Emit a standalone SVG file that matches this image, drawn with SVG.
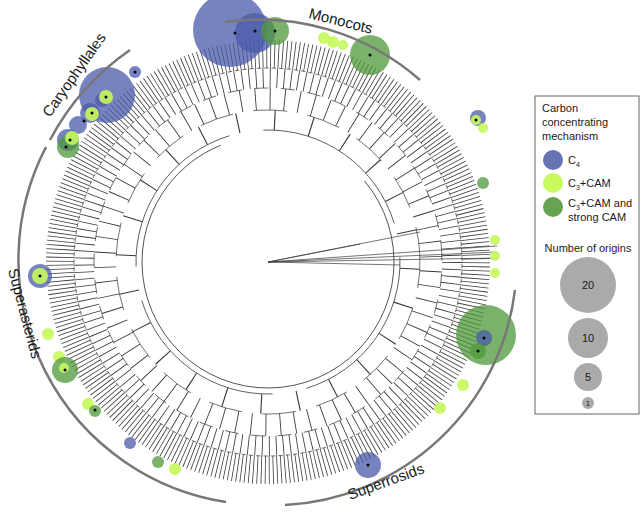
<svg xmlns="http://www.w3.org/2000/svg" width="643" height="525" viewBox="0 0 643 525">
<style>
.t{fill:none;stroke:#3a3a3a;stroke-linejoin:bevel}
.lab{font-family:"Liberation Sans",Arial,sans-serif;fill:#1a1a1a}
.b{fill:#4a5aa8;fill-opacity:.75}
.l{fill:#c4f85a;fill-opacity:.9}
.g{fill:#4e983a;fill-opacity:.75}
.d{fill:#000}
.arc{fill:none;stroke:#777;stroke-width:2.5}
</style>
<rect width="643" height="525" fill="#fff"/>
<g id="tree">
<circle class="t" cx="268" cy="262" r="208" stroke-width="28" pathLength="330" stroke-dasharray="0.2 0.8" stroke-dashoffset="-0.6" transform="rotate(-6 268 262)"/>
<circle class="t" cx="268" cy="262" r="194" stroke-width="0.7" pathLength="330" stroke-dasharray="1.2 0.8" transform="rotate(-6 268 262)"/>
<circle class="t" cx="268" cy="262" r="184" stroke-width="20" pathLength="165" stroke-dasharray="0.12 0.88" stroke-dashoffset="-0.3" transform="rotate(-5 268 262)"/>
<circle class="t" cx="268" cy="262" r="174" stroke-width="0.7" pathLength="165" stroke-dasharray="2.1 1.9" transform="rotate(-5 268 262)"/>
<circle class="t" cx="268" cy="262" r="163" stroke-width="22" pathLength="70" stroke-dasharray="0.06 0.94" stroke-dashoffset="-0.2" transform="rotate(-3 268 262)"/>
<circle class="t" cx="268" cy="262" r="152" stroke-width="0.7" pathLength="70" stroke-dasharray="2.5 1.5" transform="rotate(-3 268 262)"/>
<circle class="t" cx="268" cy="262" r="142" stroke-width="20" pathLength="24" stroke-dasharray="0.03 0.97" stroke-dashoffset="-0.3" transform="rotate(-2 268 262)"/>
<circle class="t" cx="268" cy="262" r="132" stroke-width="0.8" pathLength="24" stroke-dasharray="5 1" transform="rotate(-2 268 262)"/>
<circle class="t" cx="268" cy="262" r="126" stroke-width="0.8" pathLength="100" stroke-dasharray="80 20" transform="rotate(-40 268 262)"/>
<path class="t" stroke-width="0.7" d="M268 262L497 246M268 262L497 252M268 262L497 258M268 262L420 232M268 262L400 265M268 262L360 244"/>
</g>
<g id="events">
<circle class="b" cx="230" cy="30" r="37"/><circle class="b" cx="255" cy="33" r="20"/><circle class="g" cx="275" cy="31" r="14"/>
<circle class="l" cx="324" cy="38" r="6"/><circle class="l" cx="333" cy="42" r="6"/><circle class="l" cx="343" cy="45" r="5"/>
<circle class="g" cx="370" cy="55" r="20"/>
<circle class="b" cx="135" cy="72" r="6"/><circle class="b" cx="107" cy="95" r="28"/><circle class="b" cx="102" cy="100" r="7"/><circle class="l" cx="106" cy="97" r="7"/>
<circle class="b" cx="90" cy="113" r="10"/><circle class="l" cx="92" cy="114" r="7"/><circle class="b" cx="78" cy="125" r="9"/>
<circle class="b" cx="68" cy="140" r="11"/><circle class="g" cx="68" cy="147" r="11"/><circle class="l" cx="72" cy="138" r="7"/>
<circle class="b" cx="40" cy="276" r="12"/><circle class="l" cx="40" cy="276" r="8"/>
<circle class="l" cx="48" cy="334" r="6"/><circle class="l" cx="59" cy="357" r="6"/><circle class="g" cx="65" cy="370" r="13"/><circle class="l" cx="64" cy="368" r="5"/>
<circle class="l" cx="88" cy="404" r="6"/><circle class="g" cx="95" cy="411" r="6"/><circle class="b" cx="130" cy="443" r="6"/>
<circle class="g" cx="158" cy="462" r="6"/><circle class="l" cx="175" cy="469" r="6"/><circle class="b" cx="368" cy="465" r="13"/>
<circle class="b" cx="478" cy="118" r="8"/><circle class="l" cx="476" cy="120" r="5"/><circle class="l" cx="483" cy="128" r="5"/>
<circle class="g" cx="483" cy="183" r="6"/><circle class="l" cx="495" cy="240" r="5"/><circle class="l" cx="495" cy="256" r="5"/><circle class="l" cx="495" cy="273" r="5"/>
<circle class="g" cx="486" cy="335" r="30"/><circle class="b" cx="484" cy="338" r="8"/><circle class="g" cx="478" cy="351" r="8"/>
<circle class="l" cx="463" cy="385" r="6"/><circle class="l" cx="440" cy="408" r="6"/>
<g class="d"><circle cx="235" cy="33" r="1.5"/><circle cx="255" cy="31" r="1.5"/><circle cx="275" cy="31" r="1.5"/><circle cx="370" cy="55" r="1.5"/><circle cx="135" cy="72" r="1.5"/><circle cx="106" cy="97" r="1.5"/><circle cx="92" cy="113" r="1.5"/><circle cx="84" cy="121" r="1.5"/><circle cx="70" cy="140" r="1.5"/><circle cx="66" cy="147" r="1.5"/><circle cx="40" cy="276" r="1.5"/><circle cx="65" cy="370" r="1.5"/><circle cx="95" cy="410" r="1.5"/><circle cx="368" cy="465" r="1.5"/><circle cx="484" cy="338" r="1.5"/><circle cx="478" cy="351" r="1.5"/><circle cx="476" cy="120" r="1.5"/></g>
</g>
<g id="clades">
<path class="arc" d="M225 22A243 243 0 0 1 420 80"/>
<path class="arc" d="M130 50A252 252 0 0 0 50 140"/>
<path class="arc" d="M46 147A245 245 0 0 0 226 502"/>
<path class="arc" d="M285 505A245 245 0 0 0 515 290"/>
<text class="lab" font-size="15" transform="translate(308 18) rotate(14)">Monocots</text>
<text class="lab" font-size="15" transform="translate(50 118) rotate(-55)">Caryophyllales</text>
<text class="lab" font-size="15" transform="translate(8 270) rotate(75)">Superasterids</text>
<text class="lab" font-size="15" transform="translate(350 500) rotate(-20)">Superrosids</text>
</g>
<g id="legend">
<rect x="535" y="96" width="104" height="318" fill="#fff" stroke="#666"/>
<text class="lab" font-size="11"><tspan x="542" y="112">Carbon</tspan><tspan x="542" y="126">concentrating</tspan><tspan x="542" y="140">mechanism</tspan></text>
<circle cx="553" cy="160" r="10" fill="#6572b4"/><text class="lab" font-size="11" x="568" y="164">C<tspan font-size="7" dy="3">4</tspan></text>
<circle cx="553" cy="183" r="10" fill="#c8fa60"/><text class="lab" font-size="11" x="568" y="187">C<tspan font-size="7" dy="3">3</tspan><tspan dy="-3">+CAM</tspan></text>
<circle cx="553" cy="207" r="10" fill="#68a253"/><text class="lab" font-size="11"><tspan x="568" y="207">C<tspan font-size="7" dy="3">3</tspan><tspan dy="-3">+CAM and</tspan></tspan><tspan x="568" y="221">strong CAM</tspan></text>
<text class="lab" font-size="11" x="588" y="252" text-anchor="middle">Number of origins</text>
<circle cx="588" cy="285" r="28" fill="#aaa"/><text class="lab" font-size="11" x="588" y="289" text-anchor="middle">20</text>
<circle cx="588" cy="338" r="20" fill="#aaa"/><text class="lab" font-size="11" x="588" y="342" text-anchor="middle">10</text>
<circle cx="588" cy="377" r="14" fill="#aaa"/><text class="lab" font-size="11" x="588" y="381" text-anchor="middle">5</text>
<circle cx="588" cy="403" r="6" fill="#aaa"/><text class="lab" font-size="8" x="588" y="406" text-anchor="middle">1</text>
</g>
</svg>
